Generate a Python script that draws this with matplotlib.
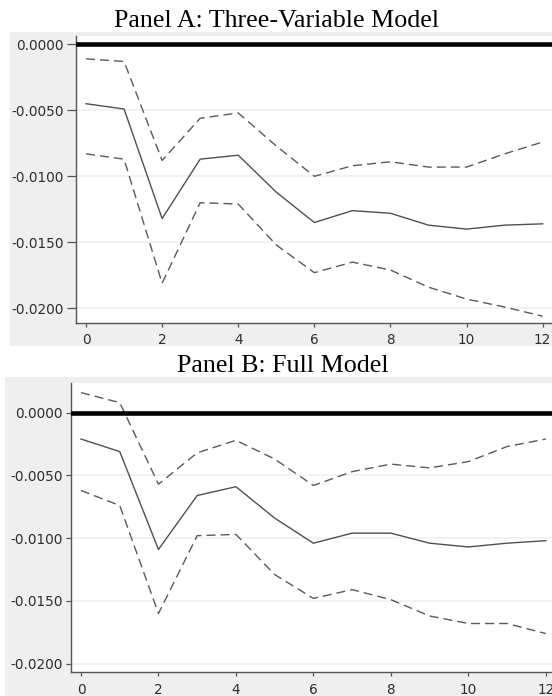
import matplotlib
matplotlib.use("Agg")
import matplotlib.pyplot as plt
from matplotlib.patches import Rectangle

# ---- data ----
periods = list(range(13))
x_ticks = [0, 2, 4, 6, 8, 10, 12]
y_ticks = [0.0, -0.005, -0.010, -0.015, -0.020]
y_tick_labels = ["0.0000", "-0.0050", "-0.0100", "-0.0150", "-0.0200"]

titles = ["Panel A: Three-Variable Model", "Panel B: Full Model"]

a_mid = [-0.0045, -0.0049, -0.0132, -0.0087, -0.0084, -0.0112, -0.0135,
         -0.0126, -0.0128, -0.0137, -0.0140, -0.0137, -0.0136]
a_upper = [-0.0011, -0.0013, -0.0088, -0.0056, -0.0052, -0.0077, -0.0100,
           -0.0092, -0.0089, -0.0093, -0.0093, -0.0083, -0.0074]
a_lower = [-0.0083, -0.0087, -0.0181, -0.0120, -0.0121, -0.0152, -0.0173,
           -0.0165, -0.0171, -0.0184, -0.0193, -0.0199, -0.0206]

b_mid = [-0.0021, -0.0031, -0.0109, -0.0066, -0.0059, -0.0084, -0.0104,
         -0.0096, -0.0096, -0.0104, -0.0107, -0.0104, -0.0102]
b_upper = [0.0016, 0.0008, -0.0057, -0.0032, -0.0022, -0.0037, -0.0058,
           -0.0047, -0.0041, -0.0044, -0.0039, -0.0027, -0.0021]
b_lower = [-0.0062, -0.0074, -0.0160, -0.0098, -0.0097, -0.0129, -0.0148,
           -0.0141, -0.0149, -0.0162, -0.0168, -0.0168, -0.0176]

W, H = 552, 696
fig = plt.figure(figsize=(W / 100, H / 100), dpi=100)
fig.patch.set_facecolor("white")


def px_rect(l, t, r, b):
    return [l / W, 1 - b / H, (r - l) / W, (b - t) / H]


def bg(l, t, r, b):
    fig.patches.append(Rectangle((l / W, 1 - b / H), (r - l) / W, (b - t) / H,
                                 transform=fig.transFigure, facecolor="#efefef",
                                 edgecolor="none", zorder=-5))


def panel(rect, xlim, ylim, mid, upper, lower, ytick_len, xpad):
    ax = fig.add_axes(px_rect(*rect))
    ax.set_zorder(2)
    ax.set_facecolor("white")
    for y in y_ticks:
        ax.axhline(y, color="#efefef", lw=1.1, zorder=1)
    ax.axhline(0, color="black", lw=3.3, zorder=4)
    ax.plot(periods, mid, color="#505050", lw=1.0, zorder=3)
    for s in (upper, lower):
        ax.plot(periods, s, color="#5a5a5a", lw=1.0, dashes=(6.5, 3.6), zorder=3)
    ax.set_xlim(*xlim)
    ax.set_ylim(*ylim)
    ax.set_xticks(x_ticks)
    ax.set_yticks(y_ticks)
    ax.set_yticklabels(y_tick_labels)
    for side in ("top", "right"):
        ax.spines[side].set_visible(False)
    for side in ("left", "bottom"):
        ax.spines[side].set_color("#555555")
        ax.spines[side].set_linewidth(1.0)
    ax.tick_params(axis="y", length=ytick_len, width=0.9, color="#555555",
                   labelsize=9.8, labelcolor="#2e2e2e", pad=2.5)
    ax.tick_params(axis="x", length=3, width=0.9, color="#555555",
                   labelsize=9.8, labelcolor="#2e2e2e", pad=xpad)
    for lab in ax.get_xticklabels() + ax.get_yticklabels():
        lab.set_family("DejaVu Sans")
    return ax


# Panel A
bg(10, 32, 552, 346)
panel((76, 36, 552, 322.7), (-0.263, 12.245), (-0.02109, 0.00063),
      a_mid, a_upper, a_lower, 6.5, 4.5)
fig.text(277 / W, 1 - 26.7 / H, titles[0], ha="center", va="baseline",
         family="Liberation Serif", fontsize=18.7, color="black")

# Panel B
bg(5, 377, 552, 696)
panel((71, 383.3, 552, 671.7), (-0.258, 12.16), (-0.02064, 0.00234),
      b_mid, b_upper, b_lower, 3.6, 5.0)
fig.text(283 / W, 1 - 371.5 / H, titles[1], ha="center", va="baseline",
         family="Liberation Serif", fontsize=18.7, color="black")

fig.savefig("out.png", dpi=100)
